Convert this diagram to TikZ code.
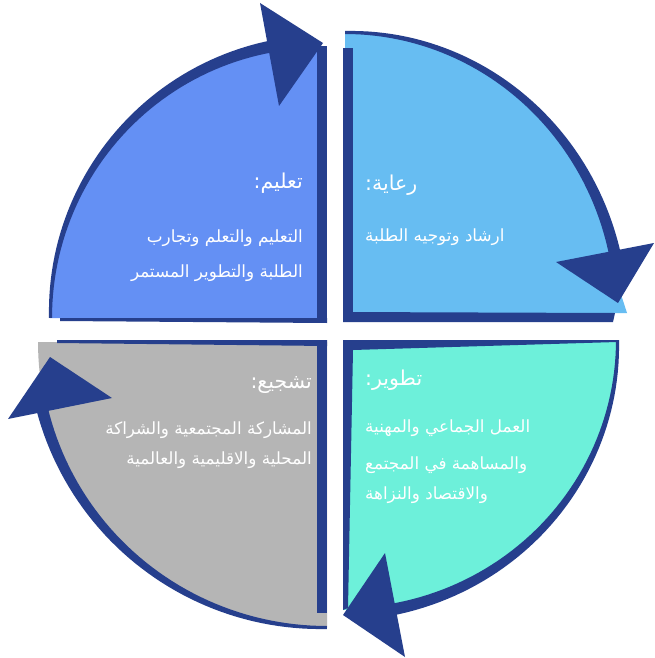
\documentclass[tikz,border=0pt]{standalone}
\usepackage{fontspec}
\newfontfamily\arabicfont[Script=Arabic]{DejaVu Sans}
\TeXXeTstate=1
\definecolor{dk}{HTML}{263F8D}
\definecolor{ctl}{HTML}{6490F4}
\definecolor{ctr}{HTML}{67BDF2}
\definecolor{cbl}{HTML}{B5B5B5}
\definecolor{cbr}{HTML}{6DF0DA}
\begin{document}
\begin{tikzpicture}[x=1pt,y=-1pt,
  darkpart/.style={fill=dk},
  ttl/.style={text=white, font=\arabicfont\fontsize{20.5}{24}\selectfont, inner sep=0pt},
  bdy/.style={text=white, font=\arabicfont\fontsize{16.8}{20}\selectfont, inner sep=0pt},
]
\fill[white] (0,0) rectangle (654,658);
\useasboundingbox (0,0) rectangle (654,658);

% ---------- top left
\fill[ctl] (320,318) -- plot[domain=180:90,samples=60] ({320+270*cos(\x)},{318-272*sin(\x)}) -- cycle;
\fill[darkpart] (317,46) rectangle (327,323);
\fill[darkpart] (60,318) -- (327,318) -- (327,323) -- (60,321) -- cycle;
\fill[darkpart] plot[domain=0:1,samples=50] ({320+(271+9*\x)*cos(180-80*\x)},{318-(273+9*\x)*sin(180-80*\x)})
  -- plot[domain=1:0,samples=50] ({320+268*cos(180-80*\x)},{318-270*sin(180-80*\x)}) -- cycle;
\fill[darkpart] (260,3) -- (323,43) -- (279,106) -- cycle;

% ---------- top right
\fill[ctr] (345,313) -- plot[domain=90:8,samples=60] ({345+272*cos(\x)},{313-281*sin(\x)}) -- (627,313) -- cycle;
\fill[darkpart] (343,48) rectangle (353,322);
\fill[darkpart] (343,312) -- (615,313) -- (613,322) -- (343,322) -- cycle;
\fill[darkpart] plot[domain=0:1,samples=50] ({345+(273+9*\x)*cos(90-80*\x)},{313-(282+9*\x)*sin(90-80*\x)})
  -- plot[domain=1:0,samples=50] ({345+270*cos(90-80*\x)},{313-279*sin(90-80*\x)}) -- cycle;
\fill[darkpart] (556,262) -- (654,243) -- (618,303) -- cycle;

% ---------- bottom left
\fill[cbl] (327,342) -- plot[domain=180:270,samples=60] ({327+289*cos(\x)},{342-286*sin(\x)}) -- cycle;
\fill[darkpart] (57,340) -- (327,340) -- (327,346) -- (57,343) -- cycle;
\fill[darkpart] (317,340) rectangle (327,613);
\fill[darkpart] plot[domain=0:1,samples=50] ({327+(299-9*\x)*cos(190+80*\x)},{342-(296-9*\x)*sin(190+80*\x)})
  -- plot[domain=1:0,samples=50] ({327+287*cos(190+80*\x)},{342-284*sin(190+80*\x)}) -- cycle;
\fill[darkpart] (50,357) -- (8,419) -- (112,398) -- cycle;

% ---------- bottom right
\fill[cbr] (343,340) -- plot[domain=0:-90,samples=60] ({343+275*cos(\x)},{340-270*sin(\x)}) -- cycle;
\fill[darkpart] (343,340) -- (617,340) -- (617,342) -- (353,350) -- (343,350) -- cycle;
\fill[darkpart] (343,340) -- (353,340) -- (353,350) -- (348,608) -- (343,610) -- cycle;
\fill[darkpart] plot[domain=0:1,samples=50] ({343+(276+9*\x)*cos(-82*\x)},{340-(271+9*\x)*sin(-82*\x)})
  -- plot[domain=1:0,samples=50] ({343+273*cos(-82*\x)},{340-268*sin(-82*\x)}) -- cycle;
\fill[darkpart] (343,615) -- (385,553) -- (405,657) -- cycle;

% ---------- texts
\node[ttl, anchor=east] (tlT) at (303,183) {\beginR تعليم:\endR};
\node[bdy, anchor=east] (tlA) at (303,238) {\beginR التعليم والتعلم وتجارب\endR};
\node[bdy, anchor=east] (tlB) at (303,273) {\beginR الطلبة والتطوير المستمر\endR};

\node[ttl, anchor=west] (trT) at (365,185) {\beginR رعاية:\endR};
\node[bdy, anchor=west] (trA) at (365,237) {\beginR ارشاد وتوجيه الطلبة\endR};

\node[ttl, anchor=east] (blT) at (312,385) {\beginR تشجيع:\endR};
\node[bdy, anchor=east] (blA) at (312,430) {\beginR المشاركة المجتمعية والشراكة\endR};
\node[bdy, anchor=east] (blB) at (312,460) {\beginR المحلية والاقليمية والعالمية\endR};

\node[ttl, anchor=west] (brT) at (365,380) {\beginR تطوير:\endR};
\node[bdy, anchor=west] (brA) at (365,428) {\beginR العمل الجماعي والمهنية\endR};
\node[bdy, anchor=west] (brB) at (365,465) {\beginR والمساهمة في المجتمع\endR};
\node[bdy, anchor=west] (brC) at (365,495) {\beginR والاقتصاد والنزاهة\endR};
\end{tikzpicture}
\end{document}
